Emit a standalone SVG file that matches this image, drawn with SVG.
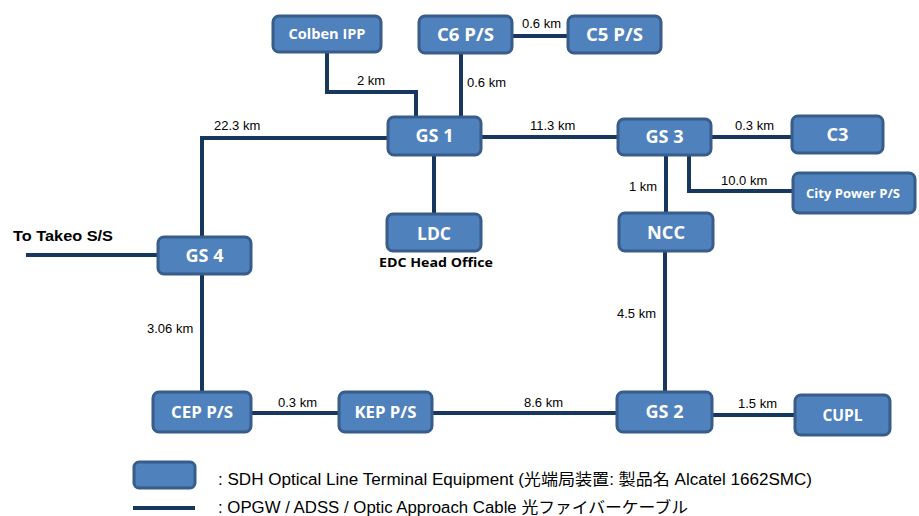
<svg xmlns="http://www.w3.org/2000/svg" width="919" height="516" viewBox="0 0 919 516">
<style>
.n{fill:#4F81BD;stroke:#385D8A;stroke-width:3}
.t{fill:#fff;font-family:"Open Sans","Liberation Sans",sans-serif;font-weight:bold;text-anchor:middle}
.c{fill:none;stroke:#17375E;stroke-width:4}
.d{fill:#000;font-family:"Liberation Sans",Arial,sans-serif;font-size:13px}
.b{fill:#000;font-family:"Open Sans","Liberation Sans",sans-serif;font-weight:bold}
.l{fill:#000;font-family:"Liberation Sans",Arial,"Noto Sans CJK JP",sans-serif;font-size:16px}
</style>
<rect width="919" height="516" fill="#fff"/>
<g id="connectors">
<path class="c" d="M327,52V92H416V117"/>
<path class="c" d="M461,53V117"/>
<path class="c" d="M512,36H568"/>
<path class="c" d="M481,137H618"/>
<path class="c" d="M388,138H202V237"/>
<path class="c" d="M434,155V214"/>
<path class="c" d="M711,137H792"/>
<path class="c" d="M666,155V213"/>
<path class="c" d="M689,155V191H793"/>
<path class="c" d="M665,251V392"/>
<path class="c" d="M26,255H158"/>
<path class="c" d="M202,274V392"/>
<path class="c" d="M251,413H339"/>
<path class="c" d="M432,413H617"/>
<path class="c" d="M712,415H795"/>
<text class="d" x="522" y="28">0.6 km</text>
<text class="d" x="357" y="85">2 km</text>
<text class="d" x="467" y="87">0.6 km</text>
<text class="d" x="214" y="130">22.3 km</text>
<text class="d" x="530" y="130">11.3 km</text>
<text class="d" x="735" y="130">0.3 km</text>
<text class="d" x="629" y="191">1 km</text>
<text class="d" x="721" y="185">10.0 km</text>
<text class="d" x="617" y="318">4.5 km</text>
<text class="d" x="147" y="333">3.06 km</text>
<text class="d" x="278" y="407">0.3 km</text>
<text class="d" x="524" y="407">8.6 km</text>
<text class="d" x="738" y="408">1.5 km</text>
</g>
<g id="colben"><rect class="n" x="273" y="16" width="108" height="36" rx="6"/><text class="t" x="327" y="39" font-size="14" textLength="77" lengthAdjust="spacingAndGlyphs">Colben IPP</text></g>
<g id="c6"><rect class="n" x="419" y="16" width="93" height="37" rx="6"/><text class="t" x="465.5" y="41" font-size="18" textLength="57" lengthAdjust="spacingAndGlyphs">C6 P/S</text></g>
<g id="c5"><rect class="n" x="568" y="16" width="93" height="37" rx="6"/><text class="t" x="614.5" y="41" font-size="18" textLength="57" lengthAdjust="spacingAndGlyphs">C5 P/S</text></g>
<g id="gs1"><rect class="n" x="388" y="117" width="93" height="38" rx="6"/><text class="t" x="434.5" y="142" font-size="18" textLength="38" lengthAdjust="spacingAndGlyphs">GS 1</text></g>
<g id="gs3"><rect class="n" x="618" y="119" width="93" height="36" rx="6"/><text class="t" x="664.5" y="143" font-size="18" textLength="38" lengthAdjust="spacingAndGlyphs">GS 3</text></g>
<g id="c3"><rect class="n" x="792" y="116" width="91" height="37" rx="6"/><text class="t" x="837.5" y="141" font-size="18" textLength="22" lengthAdjust="spacingAndGlyphs">C3</text></g>
<g id="citypower"><rect class="n" x="793" y="173" width="122" height="40" rx="6"/><text class="t" x="853" y="198" font-size="13" textLength="94" lengthAdjust="spacingAndGlyphs">City Power P/S</text></g>
<g id="ncc"><rect class="n" x="619" y="213" width="94" height="38" rx="6"/><text class="t" x="666" y="239" font-size="18" textLength="38" lengthAdjust="spacingAndGlyphs">NCC</text></g>
<g id="ldc"><rect class="n" x="387" y="214" width="94" height="37" rx="6"/><text class="t" x="434" y="240" font-size="18" textLength="34" lengthAdjust="spacingAndGlyphs">LDC</text>
<text class="b" x="436" y="267" font-size="13" text-anchor="middle" textLength="114" lengthAdjust="spacingAndGlyphs">EDC Head Office</text></g>
<g id="gs4"><rect class="n" x="158" y="237" width="93" height="37" rx="6"/><text class="t" x="204.5" y="262" font-size="18" textLength="38" lengthAdjust="spacingAndGlyphs">GS 4</text></g>
<g id="takeo"><text x="13" y="241" font-size="15" font-weight="bold" style="font-family:'Liberation Sans',Arial,sans-serif" textLength="100" lengthAdjust="spacingAndGlyphs">To Takeo S/S</text></g>
<g id="cep"><rect class="n" x="153" y="392" width="98" height="40" rx="6"/><text class="t" x="202" y="418" font-size="16" textLength="62" lengthAdjust="spacingAndGlyphs">CEP P/S</text></g>
<g id="kep"><rect class="n" x="339" y="392" width="93" height="40" rx="6"/><text class="t" x="385.5" y="418" font-size="16" textLength="62" lengthAdjust="spacingAndGlyphs">KEP P/S</text></g>
<g id="gs2"><rect class="n" x="617" y="392" width="95" height="40" rx="6"/><text class="t" x="664.5" y="418" font-size="18" textLength="38" lengthAdjust="spacingAndGlyphs">GS 2</text></g>
<g id="cupl"><rect class="n" x="795" y="395" width="95" height="40" rx="6"/><text class="t" x="842.5" y="421" font-size="16" textLength="40" lengthAdjust="spacingAndGlyphs">CUPL</text></g>
<g id="legend">
<rect class="n" x="134" y="462" width="61" height="26" rx="5"/>
<line class="c" x1="133" y1="508" x2="195" y2="508"/>
<text class="l" x="218" y="485" textLength="594" lengthAdjust="spacingAndGlyphs">: SDH Optical Line Terminal Equipment (光端局装置: 製品名 Alcatel 1662SMC)</text>
<text class="l" x="218" y="513" textLength="470" lengthAdjust="spacingAndGlyphs">: OPGW / ADSS / Optic Approach Cable 光ファイバーケーブル</text>
</g>
</svg>
